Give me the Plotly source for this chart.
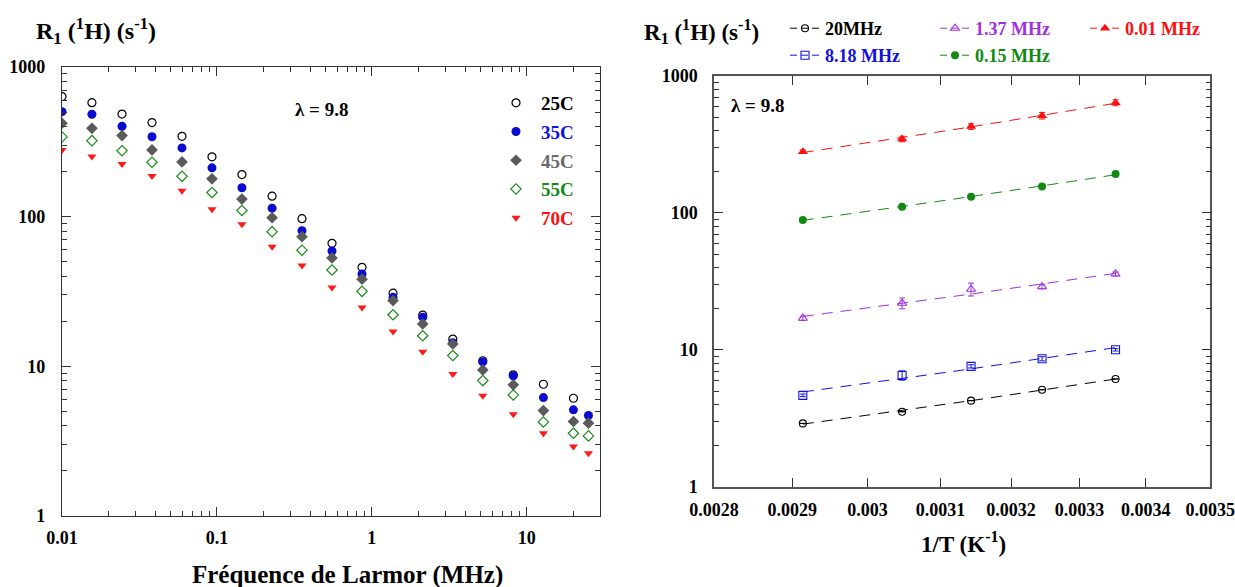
import numpy as np
import plotly.graph_objects as go

# ---------------- Left panel data: R1 vs Larmor frequency ----------------
freq_mhz = [0.01, 0.0156, 0.0244, 0.0381, 0.0595, 0.0929, 0.145, 0.227, 0.354,
            0.553, 0.864, 1.37, 2.13, 3.33, 5.2, 8.18, 12.8, 20.0, 25.0]
r1_25C = [634, 578, 485, 425, 344, 251, 191, 137, 97, 66.4, 45.9, 30.8, 22.0,
          15.2, 10.9, 8.77, 7.59, 6.12]
r1_35C = [503, 483, 402, 342, 288, 212, 156, 114, 80.6, 59, 41.4, 28.9, 21.3,
          14.4, 10.7, 8.63, 6.18, 5.12, 4.69]
r1_45C = [421, 389, 348, 279, 232, 179, 131, 98.5, 73.5, 53, 38.2, 27.5, 19.2,
          14.1, 9.46, 7.52, 5.06, 4.28, 4.17]
r1_55C = [341, 322, 276, 231, 186, 145, 110, 79.4, 59.7, 44, 31.7, 22.1, 16.0,
          11.8, 8.03, 6.44, 4.25, 3.57, 3.43]
r1_70C = [279, 252, 225, 187, 149, 112, 89, 63, 47.1, 33.6, 24.7, 17.1, 12.5,
          8.9, 6.37, 4.79, 3.57, 2.91, 2.63]
temp_labels = ["25C", "35C", "45C", "55C", "70C"]
left_xtickvals = [0.01, 0.1, 1, 10]
left_xticktext = ["0.01", "0.1", "1", "10"]
ytickvals = [1, 10, 100, 1000]
yticktext = ["1", "10", "100", "1000"]

# ---------------- Right panel data: R1 vs 1/T ----------------
inv_T = [0.002914, 0.003047, 0.003143, 0.003245, 0.003354]
r1_20MHz = [2.90, 3.53, 4.25, 5.11, 6.12]
r1_8_18MHz = [4.65, 6.5, 7.57, 8.61, 10.0]
r1_1_37MHz = [17.0, 21.9, 27.7, 28.9, 35.8]
r1_0_15MHz = [88.7, 111, 131, 156, 192]
r1_0_01MHz = [280, 347, 427, 513, 638]
err_20MHz = [0, 0, 0, 0, 0]
err_8_18MHz = [0.1, 0.5, 0.2, 0.3, 0.2]
err_1_37MHz = [0.6, 2.0, 3.0, 1.0, 1.2]
err_0_15MHz = [0, 0, 0, 0, 0]
err_0_01MHz = [8, 16, 20, 28, 32]
freq_labels = ["20MHz", "8.18 MHz", "1.37 MHz", "0.15 MHz", "0.01 MHz"]
right_xtickvals = [0.0028, 0.0029, 0.0030, 0.0031, 0.0032, 0.0033, 0.0034, 0.0035]
right_xticktext = ["0.0028", "0.0029", "0.003", "0.0031", "0.0032", "0.0033", "0.0034", "0.0035"]

FONT = "Liberation Serif"
W, H = 1235, 587

fig = go.Figure()

# ----- left traces -----
left_series = [r1_25C, r1_35C, r1_45C, r1_55C, r1_70C]
left_text_colors = ["#000000", "#1010e0", "#6a6a6a", "#148a14", "#ff1010"]
left_markers = [
    dict(symbol="circle-open", size=8, color="#000000", line=dict(width=1.2, color="#000000")),
    dict(symbol="circle", size=9, color="#0a0ad0"),
    dict(symbol="diamond", size=9, color="#5a5a5a"),
    dict(symbol="diamond-open", size=8, color="#1a8a1a", line=dict(width=1.2, color="#1a8a1a")),
    dict(symbol="triangle-down", size=8, color="#ff1a1a"),
]
for vals, lab, mk, tc in zip(left_series, temp_labels, left_markers, left_text_colors):
    fig.add_trace(go.Scatter(
        x=freq_mhz[:len(vals)], y=vals, mode="markers", marker=mk,
        name=f"<span style='color:{tc}'>{lab}</span>", legendgroup=lab,
        legend="legend", xaxis="x", yaxis="y", showlegend=True, hoverinfo="x+y"))

# ----- right traces -----
right_series = [r1_20MHz, r1_8_18MHz, r1_1_37MHz, r1_0_15MHz, r1_0_01MHz]
right_errs = [err_20MHz, err_8_18MHz, err_1_37MHz, err_0_15MHz, err_0_01MHz]
right_colors = ["#000000", "#1010e0", "#a030e0", "#118a11", "#ff1010"]
right_markers = [
    dict(symbol="circle-open", size=7, color="#000000", line=dict(width=1.1)),
    dict(symbol="square-open", size=8, color="#1010e0", line=dict(width=1.1)),
    dict(symbol="triangle-up-open", size=8, color="#a030e0", line=dict(width=1.1)),
    dict(symbol="circle", size=8, color="#118a11"),
    dict(symbol="triangle-up", size=9, color="#ff1010"),
]
legend_of = {"20MHz": "legend2", "1.37 MHz": "legend2", "0.01 MHz": "legend2",
             "8.18 MHz": "legend3", "0.15 MHz": "legend3"}
x_arr = np.array(inv_T)
for vals, errs, lab, mk, col in zip(right_series, right_errs, freq_labels, right_markers, right_colors):
    fig.add_trace(go.Scatter(
        x=inv_T, y=vals, mode="markers", marker=mk, showlegend=False,
        error_y=dict(type="data", array=errs, visible=True, color=col, thickness=1, width=3),
        xaxis="x2", yaxis="y2"))
    coef = np.polyfit(x_arr, np.log10(vals), 1)
    xx = np.linspace(x_arr.min(), x_arr.max(), 60)
    yy = 10 ** np.polyval(coef, xx)
    fig.add_trace(go.Scatter(
        x=xx, y=yy, mode="lines", line=dict(color=col, width=1, dash="11px,8px"),
        showlegend=False, hoverinfo="skip", xaxis="x2", yaxis="y2"))

# legend entries for right panel (ordering as in reference)
for lab in ["20MHz", "1.37 MHz", "0.01 MHz", "8.18 MHz", "0.15 MHz"]:
    i = freq_labels.index(lab)
    fig.add_trace(go.Scatter(
        x=[None], y=[None], mode="lines+markers", marker=right_markers[i],
        line=dict(color=right_colors[i], width=1, dash="7px,4px"),
        name=f"<span style='color:{right_colors[i]}'>{lab}</span>",
        legend=legend_of[lab], xaxis="x2", yaxis="y2", showlegend=True))

axis_common = dict(showline=True, linecolor="#333333", linewidth=1.3, mirror="allticks",
                   ticks="inside", ticklen=9, tickcolor="#333333", tickwidth=1.2,
                   showgrid=False, zeroline=False, automargin=False,
                   ticklabeloverflow="allow",
                   tickfont=dict(family=FONT, size=18, color="#000000", weight=700))

minor_log = dict(ticks="inside", ticklen=5, tickcolor="#333333", tickwidth=1, dtick="D1", showgrid=False)

L = dict(x0=62, x1=600, y0=67, y1=516)
R = dict(x0=714.1, x1=1210.3, y0=76, y1=486.7)

fig.update_layout(
    width=W, height=H, margin=dict(l=0, r=0, t=0, b=0, autoexpand=False),
    paper_bgcolor="white", plot_bgcolor="white",
    xaxis=dict(axis_common, domain=[L["x0"] / W, L["x1"] / W], type="log",
               range=[-2, 1.4725], tickvals=left_xtickvals, ticktext=left_xticktext,
               minor=minor_log, anchor="y", ticklabelstandoff=5),
    yaxis=dict(axis_common, domain=[1 - L["y1"] / H, 1 - L["y0"] / H], type="log",
               range=[0, 3], tickvals=ytickvals, ticktext=yticktext,
               minor=minor_log, anchor="x", ticklabelstandoff=12),
    xaxis2=dict(axis_common, domain=[R["x0"] / W, R["x1"] / W], type="log",
                range=[np.log10(0.0028), np.log10(0.0035)],
                tickvals=right_xtickvals, ticktext=right_xticktext, anchor="y2",
                ticklabelstandoff=6, linecolor="#555555", linewidth=1.6),
    yaxis2=dict(axis_common, domain=[1 - R["y1"] / H, 1 - R["y0"] / H], type="log",
                range=[0, 3], tickvals=ytickvals, ticktext=yticktext,
                minor=minor_log, anchor="x2", ticklabelstandoff=11,
                linecolor="#555555", linewidth=1.6),
    legend=dict(x=491 / W, y=1 - 84 / H, xanchor="left", yanchor="top",
                bgcolor="rgba(0,0,0,0)", tracegroupgap=1, itemsizing="trace",
                itemwidth=40,
                font=dict(family=FONT, size=19, color="#000000", weight=700)),
    legend2=dict(x=785 / W, y=1 - 10 / H, xanchor="left", yanchor="top",
                 orientation="h", entrywidth=105, bgcolor="rgba(0,0,0,0)",
                 font=dict(family=FONT, size=18, color="#000000", weight=700)),
    legend3=dict(x=785 / W, y=1 - 37 / H, xanchor="left", yanchor="top",
                 orientation="h", entrywidth=105, bgcolor="rgba(0,0,0,0)",
                 font=dict(family=FONT, size=18, color="#000000", weight=700)),
)

title_font = dict(family=FONT, size=24, color="#000000", weight=700)
ann = [
    dict(text="R<sub>1</sub> (<sup>1</sup>H) (s<sup>-1</sup>)", x=34 / W, y=1 - 31 / H,
         xanchor="left", yanchor="middle", font=title_font),
    dict(text="R<sub>1</sub> (<sup>1</sup>H) (s<sup>-1</sup>)", x=642 / W, y=1 - 31 / H,
         xanchor="left", yanchor="middle", font=dict(title_font, size=23)),
    dict(text="Fréquence de Larmor (MHz)", x=347 / W, y=1 - 575 / H,
         xanchor="center", yanchor="middle", font=dict(title_font, size=25)),
    dict(text="1/T (K<sup>-1</sup>)", x=963 / W, y=1 - 542 / H,
         xanchor="center", yanchor="middle", font=dict(title_font, size=23)),
    dict(text="λ = 9.8", x=321 / W, y=1 - 109 / H, xanchor="center", yanchor="middle",
         font=dict(family=FONT, size=19, color="#000000", weight=700)),
    dict(text="λ = 9.8", x=758 / W, y=1 - 105 / H, xanchor="center", yanchor="middle",
         font=dict(family=FONT, size=19, color="#000000", weight=700)),
]
for a in ann:
    fig.add_annotation(xref="paper", yref="paper", showarrow=False, **a)

fig.write_html("out.html", config={"displayModeBar": False},
               post_script="document.body.style.margin='0';document.body.style.overflow='hidden';")
